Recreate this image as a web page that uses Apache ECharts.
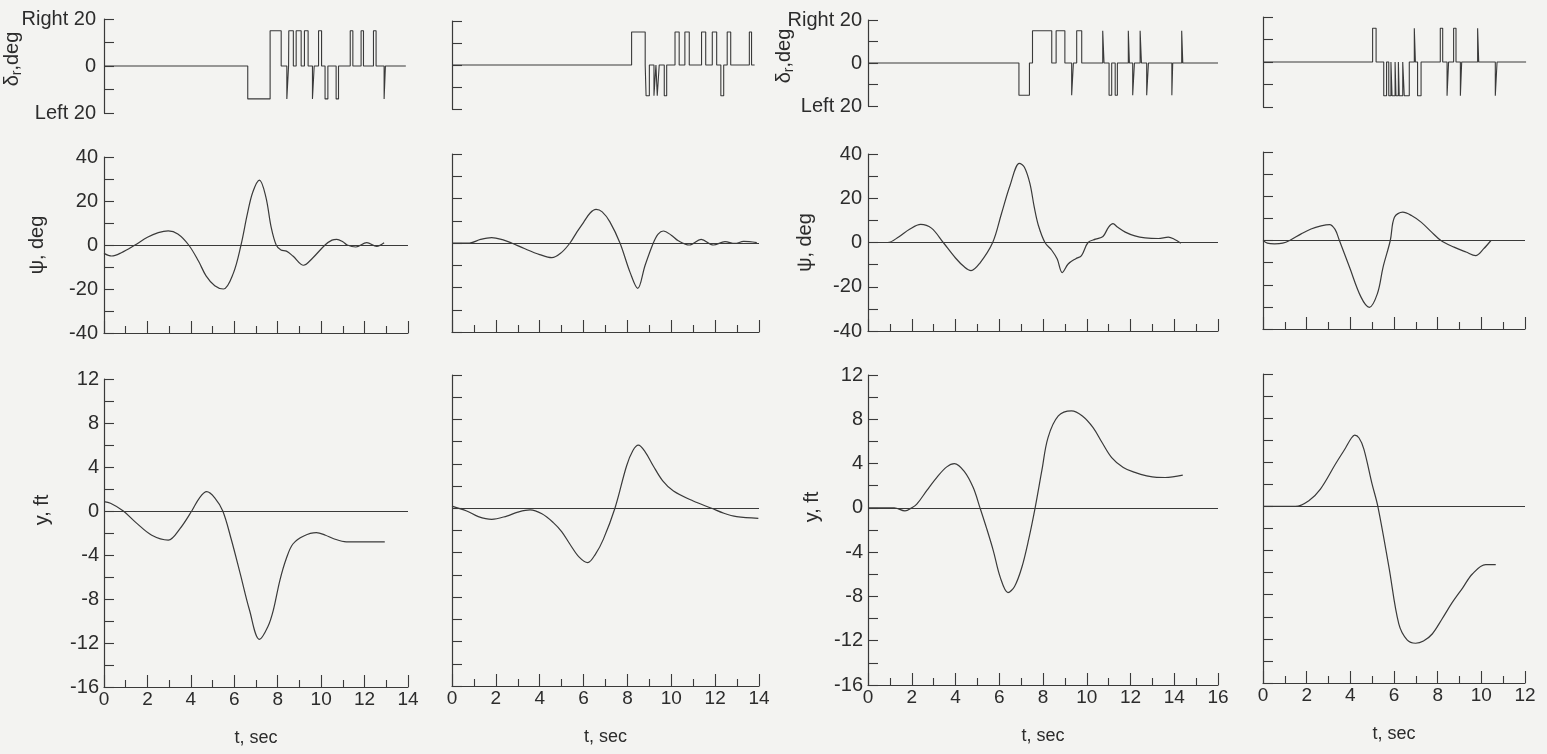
<!DOCTYPE html>
<html><head><meta charset="utf-8">
<script src="https://cdn.jsdelivr.net/npm/echarts@6/dist/echarts.min.js"></script>
<style>html,body{margin:0;padding:0;background:#f3f3f1}#c{width:1547px;height:754px}</style>
</head><body><div id="c"></div>
<script>
// ---------- DATA ----------
// time-axis extent (sec) and end of the rudder trace for each column
const tMax = [14, 14, 16, 12];
const drEnd = [13.9, 13.8, 16, 12.05];

// rudder pulses: [t start, t end, deflection deg]  (+ = Right, - = Left)
const dr1 = [[6.62,7.65,-14],[7.65,8.16,15],[8.42,8.5,-14],[8.51,8.72,15],[8.85,9.08,15],[9.23,9.4,15],[9.6,9.68,-14],[9.88,10.02,15],[10.18,10.31,-14],[10.69,10.8,-14],[11.34,11.46,15],[11.84,11.95,15],[12.41,12.53,15],[12.9,12.96,-14]];
const dr2 = [[8.19,8.81,15],[8.85,9.0,-14],[9.21,9.3,-14],[9.36,9.45,-14],[9.68,9.79,-14],[10.17,10.36,15],[10.62,10.82,15],[11.38,11.57,15],[11.87,12.07,15],[12.26,12.39,-14],[12.55,12.71,15],[13.56,13.66,15]];
const dr3 = [[6.9,7.38,-15],[7.52,8.4,15],[8.6,9.0,15],[9.31,9.39,-15],[9.54,9.77,15],[10.73,10.79,15],[11.02,11.14,-15],[11.3,11.4,-15],[11.9,11.95,15],[12.1,12.18,-15],[12.44,12.5,15],[12.74,12.82,-15],[13.89,13.93,-15],[14.34,14.39,15]];
const dr4 = [[5.02,5.18,15],[5.53,5.66,-15],[5.76,5.86,-15],[5.91,6.05,-15],[6.09,6.2,-15],[6.24,6.4,-15],[6.47,6.7,-15],[6.93,6.98,15],[7.08,7.24,-15],[8.12,8.23,15],[8.43,8.5,-15],[8.73,8.84,15],[9.04,9.1,-15],[9.83,9.88,15],[10.64,10.72,-15]];

// heading psi (deg): [t, value]
const psi1 = [[0,-3.8],[0.35,-5],[0.8,-3.5],[1.43,0],[2.0,3.5],[2.5,5.6],[2.96,6.4],[3.4,5.0],[3.9,0],[4.35,-7.3],[4.7,-14],[5.1,-18.5],[5.5,-20],[5.95,-13],[6.31,0],[6.6,14],[6.85,24],[7.16,29.5],[7.45,22],[7.7,8],[7.93,0],[8.15,-2.3],[8.4,-2.8],[8.7,-5],[9.19,-9.2],[9.6,-6],[10.18,0],[10.5,2.2],[10.72,2.6],[11.0,1.5],[11.2,0],[11.6,-0.9],[12.1,1.1],[12.56,-0.6],[12.9,1]];
const psi2 = [[0,0],[0.8,0],[1.3,1.6],[1.81,2.4],[2.3,1.5],[2.72,0],[3.3,-2.5],[4.0,-5.2],[4.55,-6.6],[5.0,-4.2],[5.38,0],[5.7,5],[6.0,9.3],[6.3,13.5],[6.57,15.1],[6.85,14],[7.2,9.5],[7.66,0],[8.12,-13.2],[8.47,-20.4],[8.8,-10.2],[9.18,0],[9.4,4],[9.64,5.4],[10.0,3.5],[10.32,1],[10.82,-0.9],[11.36,1.6],[11.92,-0.9],[12.45,0.6],[12.9,-0.2],[13.3,0.7],[13.9,0.2]];
const psi3 = [[0,0],[0.9,0],[1.4,2.5],[1.9,6],[2.41,8.2],[2.9,6.5],[3.44,0],[4.0,-7],[4.4,-11],[4.71,-12.7],[5.1,-9.5],[5.7,0],[6.1,13],[6.5,26],[6.92,35.8],[7.15,34],[7.4,26.7],[7.6,16],[7.79,7.7],[8.09,0],[8.4,-3.5],[8.65,-7.5],[8.88,-13.6],[9.15,-9.7],[9.5,-7.3],[9.76,-5.9],[10.06,0],[10.4,1.5],[10.74,2.7],[11.0,7],[11.2,8.5],[11.4,7],[11.76,4.7],[12.2,3],[12.67,2.1],[13.27,1.8],[13.73,2.4],[14.0,1.5],[14.3,-0.3]];
const psi4 = [[0,0],[0.2,-1.2],[0.53,-1.5],[0.9,-1.2],[1.22,0],[1.75,3.0],[2.2,5.2],[2.66,6.6],[3.05,7.2],[3.3,5],[3.5,0],[3.96,-12],[4.49,-25.6],[4.87,-30.2],[5.24,-24],[5.5,-12],[5.83,0],[6.02,10.5],[6.4,12.8],[6.8,11.3],[7.24,8.3],[7.7,4],[8.15,0],[8.75,-3],[9.3,-5.2],[9.74,-6.8],[10.1,-3.8],[10.44,0]];

// lateral displacement y (ft): [t, value]
const y1 = [[0,0.85],[0.3,0.7],[0.89,0],[1.5,-1.1],[2.2,-2.2],[2.96,-2.64],[3.5,-1.6],[4.04,0],[4.4,1.2],[4.73,1.76],[5.1,1.2],[5.47,0],[5.85,-2.5],[6.27,-5.67],[6.7,-9],[7.16,-11.67],[7.55,-10.5],[7.8,-9],[8.1,-6.3],[8.4,-4.3],[8.7,-3],[9.2,-2.27],[9.78,-1.97],[10.2,-2.2],[10.55,-2.5],[11.16,-2.8],[12.93,-2.8]];
const y2 = [[0,0.2],[0.67,-0.24],[1.2,-0.75],[1.81,-0.99],[2.5,-0.7],[3.0,-0.35],[3.56,-0.15],[4.1,-0.5],[4.62,-1.29],[5.0,-2.1],[5.38,-3.24],[5.8,-4.4],[6.19,-4.89],[6.55,-4.1],[6.9,-2.8],[7.43,0],[7.96,3.81],[8.25,5.2],[8.5,5.68],[8.8,5.1],[9.18,3.81],[9.6,2.5],[10.1,1.56],[11.0,0.66],[11.84,0],[12.4,-0.45],[12.98,-0.75],[13.97,-0.9]];
const y3 = [[0,0],[1.2,0],[1.69,-0.27],[2.0,0],[2.23,0.33],[2.7,1.6],[3.14,2.74],[3.6,3.7],[3.95,4.0],[4.4,3.3],[4.81,1.83],[5.12,0],[5.43,-1.9],[5.73,-3.88],[6.05,-6.3],[6.4,-7.65],[6.7,-7.1],[7.03,-5.39],[7.35,-2.8],[7.64,0],[7.95,3.4],[8.23,6.35],[8.7,8.3],[9.3,8.76],[9.8,8.3],[10.29,7.25],[10.7,5.9],[11.14,4.54],[11.67,3.64],[12.2,3.2],[12.74,2.89],[13.2,2.75],[13.58,2.74],[14.39,2.95]];
const y4 = [[0,0],[1.48,0],[2.1,0.52],[2.63,1.57],[3.32,3.84],[3.78,5.3],[4.05,6.2],[4.2,6.46],[4.4,6.2],[4.62,5.2],[5.0,2.0],[5.26,0],[5.77,-5.52],[6.22,-10.65],[6.6,-12.1],[6.99,-12.4],[7.35,-12.2],[7.75,-11.56],[8.2,-10.2],[8.67,-8.7],[9.14,-7.4],[9.59,-6.12],[10.2,-5.28],[10.66,-5.28]];

// tick labels
const drTickLabels = {'20': 'Right 20', '0': '0', '-20': 'Left 20'};
const psiTickLabels = [40, 20, 0, -20, -40];
const yTickLabels = [12, 8, 4, 0, -4, -8, -12, -16];
const tTickLabels = [0, 2, 4, 6, 8, 10, 12, 14, 16];

// ---------- LAYOUT ----------
const cols = [
  {left:104, width:304, dr:[19,94], psi:[157,176], y:[379,308], labels:true, drGap:80, psiGap:57, yGap:52},
  {left:452, width:307, dr:[21,88], psi:[154,178], y:[375,311], labels:false},
  {left:868, width:350, dr:[20,86], psi:[154,177], y:[375,310], labels:true, drGap:72, psiGap:53, yGap:46},
  {left:1263, width:262, dr:[17,90], psi:[152,177], y:[374,309], labels:false}
];
const drSets = [dr1, dr2, dr3, dr4];
const psiSets = [psi1, psi2, psi3, psi4];
const ySets = [y1, y2, y3, y4];

const INK = '#3a3a3a';
const TXT = '#2c2c2c';
const FONT = "'Liberation Sans', Arial, sans-serif";

function stepData(pulses, end) {
  const d = [[0, 0]];
  pulses.forEach(([a, b, v]) => { d.push([a, 0], [a, v], [b, v], [b, 0]); });
  d.push([end, 0]);
  return d;
}

const grids = [], xAxes = [], yAxes = [], series = [];
const axisLine = {show:true, onZero:false, lineStyle:{color:INK, width:1.2}};

cols.forEach((c, i) => {
  const rows = [c.dr, c.psi, c.y];
  rows.forEach(r => grids.push({left:c.left, top:r[0], width:c.width, height:r[1], containLabel:false, outerBoundsMode:'none'}));
  const base = i * 3;
  // x axes
  xAxes.push({gridIndex:base, type:'value', min:0, max:tMax[i], show:false});
  const xCommon = {type:'value', min:0, max:tMax[i], interval:2, position:'bottom',
    axisLine, splitLine:{show:false},
    axisTick:{show:true, inside:true, length:12, lineStyle:{color:INK, width:1.1}},
    minorTick:{show:true, splitNumber:2, length:7, lineStyle:{color:INK, width:1.1}}};
  xAxes.push(Object.assign({gridIndex:base+1, axisLabel:{show:false}}, xCommon));
  xAxes.push(Object.assign({gridIndex:base+2,
    axisLabel:{show:true, margin:3, fontSize:19, color:TXT, fontFamily:FONT,
      formatter: v => tTickLabels.includes(v) ? String(v) : ''},
    name:'t, sec', nameLocation:'middle', nameGap:42, nameMoveOverlap:false,
    nameTextStyle:{fontSize:18, color:TXT, fontFamily:FONT}}, xCommon));
  // y axes
  const yTick = {show:true, inside:true, length:10, lineStyle:{color:INK, width:1.1}};
  yAxes.push({gridIndex:base, type:'value', min:-20, max:20, interval:10, axisLine, axisTick:yTick, splitLine:{show:false},
    axisLabel:{show:c.labels, margin:i===0?8:6, fontSize:20, color:TXT, fontFamily:FONT,
      formatter: v => drTickLabels[String(v)] || ''},
    name: c.labels ? '{a|δ}{b|r}{a|,deg}' : '', nameLocation:'middle', nameRotate:90, nameGap:c.drGap || 0,
    nameMoveOverlap:false,
    nameTextStyle:{color:TXT, fontFamily:FONT, padding:[0,0,0,14],
      rich:{a:{fontSize:20, color:TXT, fontFamily:FONT}, b:{fontSize:14, color:TXT, fontFamily:FONT, padding:[9,0,0,0]}}}});
  yAxes.push({gridIndex:base+1, type:'value', min:-40, max:40, interval:10, axisLine, axisTick:yTick, splitLine:{show:false},
    axisLabel:{show:c.labels, margin:6, fontSize:20, color:TXT, fontFamily:FONT,
      formatter: v => psiTickLabels.includes(v) ? String(v) : ''},
    name: c.labels ? 'ψ, deg' : '', nameLocation:'middle', nameRotate:90, nameGap:c.psiGap || 0,
    nameMoveOverlap:false,
    nameTextStyle:{fontSize:20, color:TXT, fontFamily:FONT}});
  yAxes.push({gridIndex:base+2, type:'value', min:-16, max:12, interval:2, axisLine, axisTick:yTick, splitLine:{show:false},
    axisLabel:{show:c.labels, margin:5, fontSize:20, color:TXT, fontFamily:FONT,
      formatter: v => yTickLabels.includes(v) ? String(v) : ''},
    name: c.labels ? 'y, ft' : '', nameLocation:'middle', nameRotate:90, nameGap:c.yGap || 0,
    nameMoveOverlap:false,
    nameTextStyle:{fontSize:20, color:TXT, fontFamily:FONT, padding:[0,0,0,46]}});

  const zeroLine = {silent:true, symbol:'none', label:{show:false}, animation:false,
    lineStyle:{color:INK, width:1, type:'solid'}, data:[{yAxis:0}]};
  series.push({type:'line', xAxisIndex:base, yAxisIndex:base, data:stepData(drSets[i], drEnd[i]),
    showSymbol:false, symbol:'none', lineStyle:{color:INK, width:1.1}, animation:false});
  series.push({type:'line', xAxisIndex:base+1, yAxisIndex:base+1, data:psiSets[i], smooth:0.35,
    showSymbol:false, symbol:'none', lineStyle:{color:INK, width:1.2}, animation:false, markLine:zeroLine});
  series.push({type:'line', xAxisIndex:base+2, yAxisIndex:base+2, data:ySets[i], smooth:0.35,
    showSymbol:false, symbol:'none', lineStyle:{color:INK, width:1.2}, animation:false, markLine:zeroLine});
});

const chart = echarts.init(document.getElementById('c'), null, {renderer:'canvas'});
chart.setOption({
  backgroundColor:'#f3f3f1',
  animation:false,
  grid:grids, xAxis:xAxes, yAxis:yAxes, series
});
</script></body></html>
